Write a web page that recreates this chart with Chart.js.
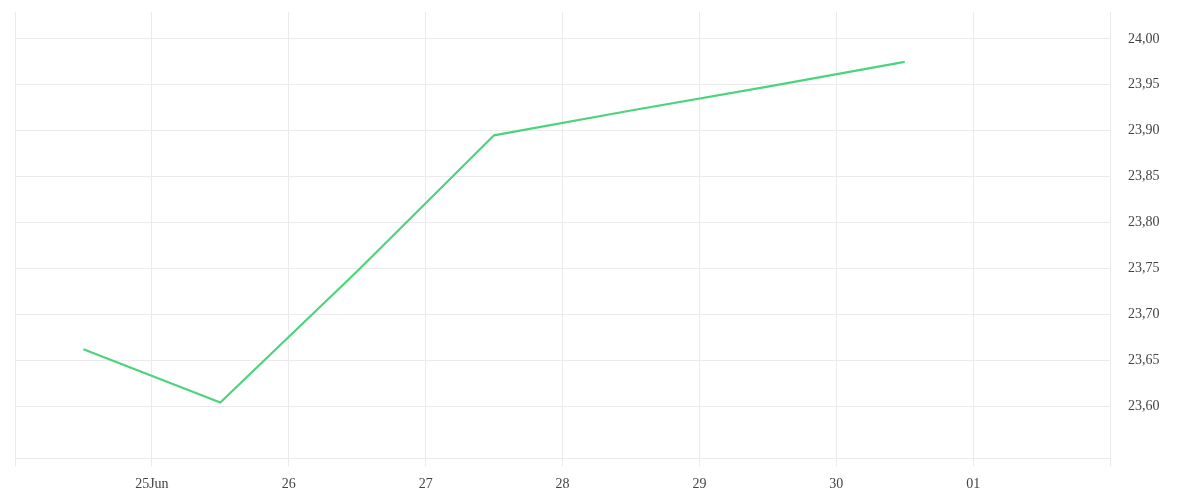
<!DOCTYPE html>
<html>
<head>
<meta charset="utf-8">
<script src="https://cdn.jsdelivr.net/npm/chart.js@4/dist/chart.umd.min.js"></script>
<style>
  html, body { margin: 0; padding: 0; background: #fff; }
  #wrap { width: 1200px; height: 500px; }
</style>
</head>
<body>
<div id="wrap"><canvas id="chart"></canvas></div>
<script>
// 数据：x 为日期（24 = 6月24日，31 = 7月1日），点在每天中午
const days = [24.5, 25.5, 26.5, 27.5, 28.5, 29.5, 30.5];
const rates = [23.662, 23.604, 23.747, 23.895, 23.922, 23.948, 23.975];

// 刻度
const dayTicks = [24, 25, 26, 27, 28, 29, 30, 31, 32];
const dayLabels = ['', '25Jun', '26', '27', '28', '29', '30', '01', ''];
const rateTicks = [23.60, 23.65, 23.70, 23.75, 23.80, 23.85, 23.90, 23.95, 24.00];

const gridColor = '#ebebeb';
const fontSpec = { family: 'Liberation Serif', size: 14 };

// 去掉刻度标签带来的额外内边距
function noPadding(scale) {
    scale.paddingTop = 0;
    scale.paddingBottom = 0;
    scale.paddingLeft = 0;
    scale.paddingRight = 0;
}

new Chart(document.getElementById('chart').getContext('2d'), {
    type: 'line',
    data: {
        datasets: [{
            data: days.map((d, i) => ({ x: d, y: rates[i] })),
            borderColor: '#4cd47c',
            borderWidth: 2.2,
            pointRadius: 0,
            tension: 0,
            fill: false
        }]
    },
    options: {
        responsive: true,
        maintainAspectRatio: false,
        animation: false,
        layout: { padding: { left: 15, top: 12, right: 0, bottom: 0 } },
        plugins: {
            legend: { display: false },
            tooltip: { enabled: false }
        },
        scales: {
            x: {
                type: 'linear',
                min: 24,
                max: 32,
                afterBuildTicks: scale => {
                    scale.ticks = dayTicks.map(v => ({ value: v }));
                },
                afterFit: scale => {
                    scale.height = 42;
                    noPadding(scale);
                },
                grid: { color: gridColor, tickLength: 8 },
                border: { color: gridColor },
                ticks: {
                    color: '#444',
                    font: fontSpec,
                    padding: 10,
                    maxRotation: 0,
                    autoSkip: false,
                    callback: value => dayLabels[dayTicks.indexOf(value)] ?? ''
                }
            },
            y: {
                position: 'right',
                min: 23.5435,
                max: 24.0293,
                afterBuildTicks: scale => {
                    scale.ticks = rateTicks.map(v => ({ value: v }));
                },
                afterFit: scale => {
                    scale.width = 90;
                    noPadding(scale);
                },
                grid: { color: gridColor, drawTicks: false },
                border: { color: gridColor },
                ticks: {
                    color: '#444',
                    font: fontSpec,
                    padding: 18,
                    callback: value => value.toFixed(2).replace('.', ',')
                }
            }
        }
    }
});
</script>
</body>
</html>
